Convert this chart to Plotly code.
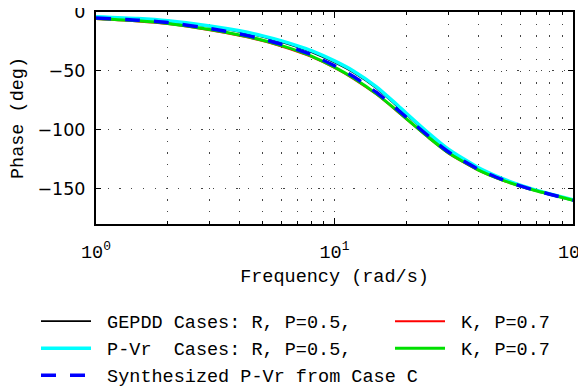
import plotly.graph_objects as go

# frequency points (rad/s)
freq = [1, 1.5, 2, 3, 4, 5, 6, 7, 8, 10, 12, 15, 18, 20, 25, 30, 40, 50, 60, 70, 80, 100]

# phase (deg) for each case
gepdd_r = [-4.5, -6.1, -8.1, -12.5, -16.8, -21.2, -25.5, -29.8, -34, -42.8, -51.3, -64.8,
           -78.8, -87.2, -104.5, -117.3, -132.7, -141.5, -147.4, -151.6, -154.8, -159.7]
gepdd_k = [-6, -8.1, -10.3, -15.5, -20.2, -24.7, -29.3, -33.7, -38.1, -47.5, -56.7, -70.1,
           -83.1, -91, -107.5, -120, -134.4, -142.6, -148, -152, -155, -160]
pvr_r = [-4, -5.6, -7.5, -11.8, -16, -20.3, -24.5, -28.7, -32.8, -41.5, -50, -63.5,
         -77.5, -86, -103.5, -116.5, -132, -141, -147, -151.2, -154.5, -159.5]
pvr_k = [-5.5, -7.5, -9.7, -14.8, -19.5, -24, -28.6, -33, -37.4, -46.8, -56, -69.5,
         -82.5, -90.5, -107, -119.5, -134, -142.3, -147.8, -151.8, -154.8, -159.8]
synth = [-5, -6.9, -9, -14, -18.6, -23, -27.5, -31.9, -36.3, -45.6, -54.8, -68.3,
         -81.4, -89.4, -106, -118.7, -133.4, -142, -147.6, -151.6, -154.7, -159.8]

names = [
    "\u00a0GEPDD Cases: R, P=0.5,",
    "\u00a0K, P=0.7",
    "\u00a0P-Vr\u00a0\u00a0Cases: R, P=0.5,",
    "\u00a0K, P=0.7",
    "\u00a0Synthesized P-Vr from Case C",
]
# left column legend vs right column legend
which = ["legend", "legend2", "legend", "legend2", "legend"]

mono = "Liberation Mono, Courier New, monospace"

fig = go.Figure()
series = [
    (gepdd_r, "black", 1.8, "solid"),
    (gepdd_k, "#ff0000", 2, "solid"),
    (pvr_r, "#00ffff", 3.5, "solid"),
    (pvr_k, "#00e000", 3, "solid"),
    (synth, "#0000ff", 3.5, "15px,14px"),
]
for (y, c, w, d), n, lg in zip(series, names, which):
    fig.add_trace(go.Scatter(
        x=freq, y=y, mode="lines", name=n, legend=lg,
        line=dict(color=c, width=w, dash=d, shape="spline", smoothing=0.6),
    ))

minor_vals = [k * 10 ** e for e in (0, 1) for k in range(2, 10)]
dots = "1.3px,10.4px"

fig.update_xaxes(
    type="log", range=[0, 2], automargin=False,
    tickvals=[1, 10, 100],
    ticktext=["10<sup>0</sup>", "10<sup>1</sup>", "10<sup>2</sup>"],
    tickfont=dict(family=mono, size=18.5, color="black"),
    ticks="inside", ticklen=6, tickcolor="black",
    showline=True, linecolor="black", linewidth=2, mirror="ticks",
    showgrid=True, gridcolor="#444", griddash=dots, gridwidth=1,
    minor=dict(tickvals=minor_vals, ticks="inside", ticklen=3, tickcolor="black",
               showgrid=True, gridcolor="#444", griddash=dots, gridwidth=1),
    zeroline=False,
    title=dict(text="Frequency (rad/s)", font=dict(family=mono, size=18.5, color="black"),
               standoff=6),
    ticklabelstandoff=10,
    ticklabeloverflow="allow",
)
fig.update_yaxes(
    range=[-180, 0], automargin=False,
    tickvals=[-150, -100, -50, 0],
    ticktext=["\u2212150", "\u2212100", "\u221250", "0"],
    tickfont=dict(family="DejaVu Sans, sans-serif", size=17.5, color="black"),
    ticks="inside", ticklen=5, tickcolor="black",
    showline=True, linecolor="black", linewidth=2, mirror="ticks",
    showgrid=True, gridcolor="#444", griddash=dots, gridwidth=1,
    zeroline=False,
    title=dict(text="Phase (deg)", font=dict(family=mono, size=18.5, color="black"),
               standoff=14),
    ticklabelstandoff=5,
    ticklabeloverflow="allow",
)

# the page body adds 8px around the figure, so the figure is 8px smaller
# plot area in figure pixels: x 88..565, y 4..216
leg = dict(
    orientation="v", xanchor="left", y=-0.371, yanchor="top",
    font=dict(family=mono, size=18.5, color="black"),
    itemwidth=50, traceorder="normal", bgcolor="rgba(0,0,0,0)",
)
fig.update_layout(
    width=578, height=378,
    margin=dict(l=88, r=13, t=4, b=162, autoexpand=False),
    paper_bgcolor="white", plot_bgcolor="white",
    showlegend=True,
    legend=dict(leg, x=(28 - 88) / 477),
    legend2=dict(leg, x=(382 - 88) / 477),
)

fig.write_html("out.html")
